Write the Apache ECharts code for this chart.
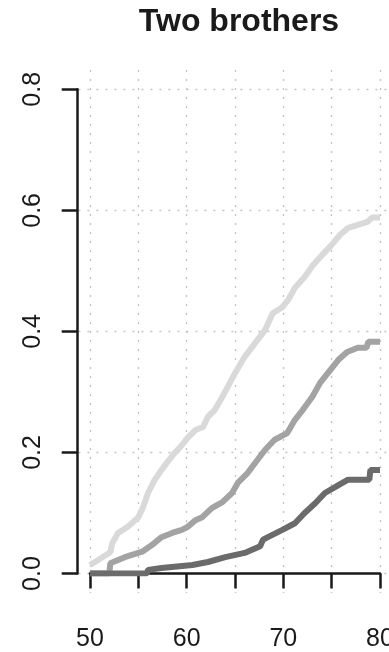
<!DOCTYPE html>
<html>
<head>
<meta charset="utf-8">
<script src="https://cdn.jsdelivr.net/npm/echarts@6/dist/echarts.min.js"></script>
<style>html,body{margin:0;padding:0;background:#fff}#c{width:389px;height:652px}</style>
</head>
<body>
<div id="c"></div>
<script>
const titleText = 'Two brothers';
const xTicks = [50, 55, 60, 65, 70, 75, 80];
const yTicks = [0, 0.2, 0.4, 0.6, 0.8];

const lightAge = [50.0, 50.8, 52.1, 52.3, 52.9, 53.9, 55.0, 55.5, 56.0, 56.7, 57.4, 58.0, 58.8, 59.5, 60.1, 60.9, 61.7, 62.2, 62.9, 63.7, 64.3, 65.0, 66.0, 67.1, 68.1, 68.9, 69.9, 70.5, 71.2, 72.2, 73.1, 74.0, 75.0, 75.9, 76.7, 77.7, 78.7, 79.2, 80.0];
const lightVal = [0.014, 0.022, 0.035, 0.05, 0.067, 0.077, 0.093, 0.11, 0.133, 0.155, 0.171, 0.184, 0.2, 0.212, 0.224, 0.237, 0.242, 0.259, 0.27, 0.292, 0.31, 0.331, 0.358, 0.381, 0.402, 0.43, 0.44, 0.452, 0.472, 0.49, 0.51, 0.526, 0.543, 0.56, 0.571, 0.576, 0.581, 0.588, 0.588];

const medAge = [50.0, 52.0, 52.1, 53.6, 55.4, 56.4, 57.4, 58.5, 59.5, 60.1, 60.9, 61.6, 62.6, 63.7, 64.7, 65.3, 66.3, 67.1, 68.1, 69.1, 70.4, 71.2, 72.0, 73.0, 73.8, 74.6, 75.7, 76.6, 77.7, 78.6, 78.8, 80.0];
const medVal = [0, 0, 0.017, 0.027, 0.036, 0.047, 0.06, 0.067, 0.072, 0.077, 0.088, 0.093, 0.108, 0.118, 0.133, 0.15, 0.166, 0.183, 0.204, 0.221, 0.232, 0.254, 0.27, 0.292, 0.315, 0.331, 0.353, 0.366, 0.373, 0.373, 0.383, 0.383];

const darkAge = [50.0, 55.9, 56.0, 57.4, 60.6, 62.2, 64.0, 66.0, 67.6, 67.9, 68.4, 69.9, 71.2, 72.2, 73.3, 74.3, 75.7, 76.7, 78.9, 79.0, 80.0];
const darkVal = [0, 0, 0.006, 0.009, 0.014, 0.019, 0.027, 0.034, 0.045, 0.056, 0.06, 0.072, 0.083, 0.1, 0.116, 0.133, 0.146, 0.155, 0.155, 0.171, 0.171];

function pairs(a, b) { return a.map((v, i) => [v, b[i]]); }

const FONT = 'Liberation Sans, Arial, sans-serif';
const gridLine = { show: true, lineStyle: { color: '#c4c4c4', width: 1.3, type: [2, 7] } };

const chart = echarts.init(document.getElementById('c'), null, { renderer: 'canvas' });
chart.setOption({
  animation: false,
  backgroundColor: '#ffffff',
  title: {
    text: titleText, left: 234, top: 1, textAlign: 'center',
    textStyle: { fontFamily: FONT, fontSize: 32, fontWeight: 'bold', color: '#1a1a1a' }
  },
  grid: [
    { left: 78.4, right: -2.6, top: 69.9, bottom: 59, containLabel: false, outerBoundsMode: 'none' },
    { left: 90, right: 9, top: 89.3, bottom: 78.5, containLabel: false, outerBoundsMode: 'none' }
  ],
  xAxis: [
    { gridIndex: 0, type: 'value', min: 48.8, max: 81.2, axisLine: { show: false },
      axisTick: { show: false, customValues: xTicks }, axisLabel: { show: false, customValues: xTicks },
      splitLine: gridLine },
    { gridIndex: 1, type: 'value', min: 50, max: 80, interval: 5, offset: 19,
      axisLine: { show: true, lineStyle: { color: '#1a1a1a', width: 2.5 } },
      axisTick: { show: true, length: 15, lineStyle: { color: '#1a1a1a', width: 2.5 } },
      axisLabel: { show: true, margin: 34, fontFamily: FONT, fontSize: 25, color: '#1a1a1a',
        showMinLabel: true, showMaxLabel: true,
        formatter: v => (v % 10 === 0 ? String(v) : '') },
      splitLine: { show: false } }
  ],
  yAxis: [
    { gridIndex: 0, type: 'value', min: -0.032, max: 0.832, axisLine: { show: false },
      axisTick: { show: false, customValues: yTicks }, axisLabel: { show: false, customValues: yTicks },
      splitLine: gridLine },
    { gridIndex: 1, type: 'value', min: 0, max: 0.8, interval: 0.2, offset: 12.3,
      axisLine: { show: true, lineStyle: { color: '#1a1a1a', width: 2.5 } },
      axisTick: { show: true, length: 16, lineStyle: { color: '#1a1a1a', width: 2.5 } },
      axisLabel: { show: true, rotate: 90, margin: 32, align: 'center', verticalAlign: 'bottom',
        fontFamily: FONT, fontSize: 25, color: '#1a1a1a',
        showMinLabel: true, showMaxLabel: true,
        formatter: v => v.toFixed(1) },
      splitLine: { show: false } }
  ],
  series: [
    { type: 'line', xAxisIndex: 1, yAxisIndex: 1, showSymbol: false, symbol: 'none',
      data: pairs(lightAge, lightVal), lineStyle: { color: '#d9d9d9', width: 6 } },
    { type: 'line', xAxisIndex: 1, yAxisIndex: 1, showSymbol: false, symbol: 'none',
      data: pairs(medAge, medVal), lineStyle: { color: '#a3a3a3', width: 6 } },
    { type: 'line', xAxisIndex: 1, yAxisIndex: 1, showSymbol: false, symbol: 'none',
      data: pairs(darkAge, darkVal), lineStyle: { color: '#6b6b6b', width: 6 } }
  ]
});
</script>
</body>
</html>
